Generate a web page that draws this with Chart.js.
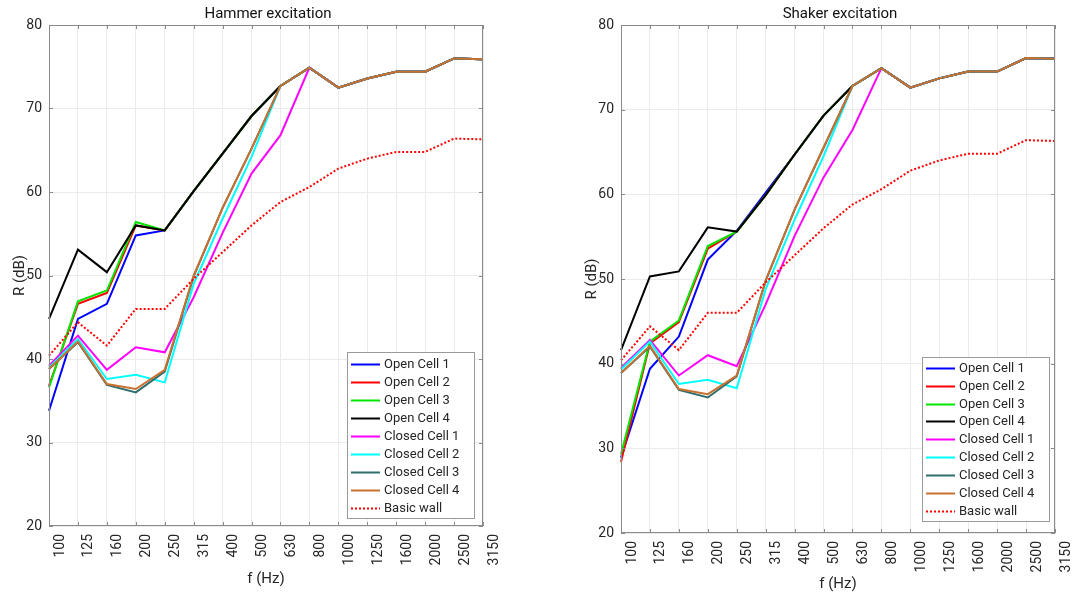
<!DOCTYPE html>
<html>
<head>
<meta charset="utf-8">
<title>Hammer / Shaker excitation</title>
<script src="https://cdn.jsdelivr.net/npm/chart.js@4.4.1/dist/chart.umd.min.js"></script>
<style>
  html, body { margin: 0; padding: 0; background: #fff; }
  #wrap { position: relative; width: 1072px; height: 595px; overflow: hidden; }
  .panel { position: absolute; top: 0; width: 536px; height: 595px; }
</style>
</head>
<body>
<div id="wrap">
  <div class="panel" style="left:0"><canvas id="hammer" width="536" height="595"></canvas></div>
  <div class="panel" style="left:536px"><canvas id="shaker" width="536" height="595"></canvas></div>
</div>
<script>
// 1/3 octave bands
const freqLabels = ['100', '125', '160', '200', '250', '315', '400', '500', '630', '800',
                    '1000', '1250', '1600', '2000', '2500', '3150'];
const yTicks = { min: 20, max: 80, step: 10 };

const seriesNames = ['Open Cell 1', 'Open Cell 2', 'Open Cell 3', 'Open Cell 4',
                     'Closed Cell 1', 'Closed Cell 2', 'Closed Cell 3', 'Closed Cell 4', 'Basic wall'];
const seriesColors = ['#0000ff', '#ff0000', '#00e600', '#000000',
                      '#ff00ff', '#00ffff', '#2f6e6e', '#c87131', '#ff0000'];

// Hammer excitation (dB)
const hammerOpen1   = [33.8, 44.8, 46.6, 54.8, 55.4, 60.1, 64.6, 69.1, 72.7, 74.9, 72.5, 73.6, 74.4, 74.4, 76.0, 75.9];
const hammerOpen2   = [36.8, 46.6, 47.9, 56.0, 55.4, 60.1, 64.6, 69.1, 72.7, 74.9, 72.5, 73.6, 74.4, 74.4, 76.0, 75.9];
const hammerOpen3   = [36.6, 46.9, 48.2, 56.4, 55.4, 60.1, 64.6, 69.1, 72.7, 74.9, 72.5, 73.6, 74.4, 74.4, 76.0, 75.9];
const hammerOpen4   = [44.8, 53.1, 50.4, 56.0, 55.4, 60.1, 64.6, 69.1, 72.7, 74.9, 72.5, 73.6, 74.4, 74.4, 76.0, 75.9];
const hammerClosed1 = [39.2, 42.8, 38.7, 41.4, 40.8, 47.4, 55.1, 62.2, 66.8, 74.9, 72.5, 73.6, 74.4, 74.4, 76.0, 75.9];
const hammerClosed2 = [39.0, 42.4, 37.6, 38.1, 37.2, 49.0, 56.8, 64.2, 72.7, 74.9, 72.5, 73.6, 74.4, 74.4, 76.0, 75.9];
const hammerClosed3 = [38.8, 42.0, 36.9, 36.0, 38.5, 49.9, 58.1, 65.2, 72.7, 74.9, 72.5, 73.6, 74.4, 74.4, 76.0, 75.9];
const hammerClosed4 = [38.8, 42.1, 37.0, 36.4, 38.7, 50.0, 58.1, 65.2, 72.7, 74.9, 72.5, 73.6, 74.4, 74.4, 76.0, 75.9];

// Shaker excitation (dB)
const shakerOpen1   = [28.9, 39.4, 43.2, 52.3, 55.7, 60.2, 64.7, 69.3, 72.8, 74.9, 72.6, 73.7, 74.5, 74.5, 76.1, 76.0];
const shakerOpen2   = [28.4, 42.4, 44.9, 53.6, 55.6, 59.9, 64.7, 69.3, 72.8, 74.9, 72.6, 73.7, 74.5, 74.5, 76.1, 76.0];
const shakerOpen3   = [29.3, 42.6, 45.1, 53.9, 55.6, 59.9, 64.7, 69.3, 72.8, 74.9, 72.6, 73.7, 74.5, 74.5, 76.1, 76.0];
const shakerOpen4   = [41.6, 50.3, 50.9, 56.1, 55.6, 59.9, 64.7, 69.3, 72.8, 74.9, 72.6, 73.7, 74.5, 74.5, 76.1, 76.0];
const shakerClosed1 = [39.5, 42.8, 38.6, 41.0, 39.7, 47.0, 55.1, 62.0, 67.6, 74.9, 72.6, 73.7, 74.5, 74.5, 76.1, 76.0];
const shakerClosed2 = [39.3, 42.6, 37.6, 38.1, 37.1, 48.8, 57.0, 64.5, 72.8, 74.9, 72.6, 73.7, 74.5, 74.5, 76.1, 76.0];
const shakerClosed3 = [38.9, 42.0, 36.9, 36.0, 38.5, 49.8, 58.2, 65.5, 72.8, 74.9, 72.6, 73.7, 74.5, 74.5, 76.1, 76.0];
const shakerClosed4 = [38.9, 42.1, 37.0, 36.4, 38.6, 49.8, 58.2, 65.5, 72.8, 74.9, 72.6, 73.7, 74.5, 74.5, 76.1, 76.0];

// reference wall, same in both plots
const basicWall = [40.4, 44.4, 41.6, 46.0, 46.0, 49.6, 52.8, 56.0, 58.8, 60.6, 62.8, 64.0, 64.8, 64.8, 66.4, 66.3];

const FONT = 'Roboto';
const textColor = '#262626';
const axisColor = '#8a8a8a';
const gridColor = '#ebebeb';

// box around the axes + small inner ticks + title, like matlab
const framePlugin = {
    id: 'frame',
    afterDraw(chart, args, opts) {
        const { ctx, chartArea: a, scales } = chart;
        ctx.save();
        ctx.strokeStyle = axisColor;
        ctx.lineWidth = 1;
        ctx.strokeRect(a.left + 0.5, a.top + 0.5, a.right - a.left - 1, a.bottom - a.top - 1);

        ctx.beginPath();
        scales.y.ticks.forEach(t => {
            const y = Math.round(scales.y.getPixelForValue(t.value)) + 0.5;
            ctx.moveTo(a.left, y); ctx.lineTo(a.left + 4, y);
            ctx.moveTo(a.right - 4, y); ctx.lineTo(a.right, y);
        });
        scales.x.ticks.forEach((t, i) => {
            const x = Math.round(scales.x.getPixelForTick(i)) + 0.5;
            ctx.moveTo(x, a.bottom); ctx.lineTo(x, a.bottom - 4);
            ctx.moveTo(x, a.top); ctx.lineTo(x, a.top + 4);
        });
        ctx.stroke();

        ctx.fillStyle = '#111';
        ctx.font = '15px ' + FONT;
        ctx.textAlign = 'center';
        ctx.textBaseline = 'middle';
        ctx.fillText(opts.text, (a.left + a.right) / 2 + 2, 14);
        ctx.restore();
    }
};

// legend box in the lower right corner of the axes
const boxLegendPlugin = {
    id: 'boxLegend',
    afterDraw(chart, args, opts) {
        const { ctx, chartArea: a } = chart;
        const w = 127, h = opts.height;
        const x0 = Math.round(a.right - opts.right - w);
        const y0 = Math.round(a.bottom - opts.bottom - h);
        ctx.save();
        ctx.fillStyle = '#fff';
        ctx.fillRect(x0, y0, w, h);
        ctx.strokeStyle = '#9a9a9a';
        ctx.lineWidth = 1;
        ctx.strokeRect(x0 + 0.5, y0 + 0.5, w, h);

        ctx.font = '13px ' + FONT;
        ctx.textBaseline = 'middle';
        ctx.textAlign = 'left';
        chart.data.datasets.forEach((ds, i) => {
            const y = Math.round(y0 + opts.firstRow + i * opts.rowGap) + 0.5;
            ctx.strokeStyle = ds.borderColor;
            ctx.lineWidth = 2;
            ctx.setLineDash(ds.borderDash || []);
            ctx.beginPath();
            ctx.moveTo(x0 + 4, y);
            ctx.lineTo(x0 + 33, y);
            ctx.stroke();
            ctx.setLineDash([]);
            ctx.fillStyle = textColor;
            ctx.fillText(ds.label, x0 + 37, y);
        });
        ctx.restore();
    }
};

function makeDatasets(arrays) {
    return arrays.map((values, i) => ({
        label: seriesNames[i],
        data: values,
        borderColor: seriesColors[i],
        backgroundColor: seriesColors[i],
        borderWidth: 2,
        borderDash: i === 8 ? [2, 2] : [],
        pointRadius: 0,
        tension: 0,
        fill: false,
        order: 8 - i   // last series on top, as in matlab
    }));
}

function buildChart(id, arrays, p) {
    const ctx = document.getElementById(id).getContext('2d');
    return new Chart(ctx, {
        type: 'line',
        data: { labels: freqLabels, datasets: makeDatasets(arrays) },
        plugins: [framePlugin, boxLegendPlugin],
        options: {
            responsive: false,
            animation: false,
            layout: { padding: { left: p.padLeft, right: p.padRight, top: 25, bottom: 0 } },
            scales: {
                x: {
                    type: 'category',
                    offset: false,
                    grid: { color: gridColor, drawTicks: false },
                    border: { display: false },
                    ticks: {
                        autoSkip: false, minRotation: 90, maxRotation: 90,
                        padding: 8, labelOffset: 11,
                        color: textColor, font: { family: FONT, size: 14 }
                    },
                    title: {
                        display: true, text: 'f (Hz)', color: textColor,
                        font: { family: FONT, size: 15 },
                        padding: { top: 0, bottom: p.xTitlePad }
                    },
                    afterFit: s => { s.height = p.xHeight; s.paddingLeft = 0; s.paddingRight = 0; }
                },
                y: {
                    min: yTicks.min, max: yTicks.max,
                    grid: { color: gridColor, drawTicks: false },
                    border: { display: false },
                    ticks: {
                        stepSize: yTicks.step, padding: 7,
                        color: textColor, font: { family: FONT, size: 14 }
                    },
                    title: {
                        display: true, text: 'R (dB)', color: textColor,
                        font: { family: FONT, size: 15 },
                        padding: { top: 11, bottom: 0 }
                    },
                    afterFit: s => { s.width = 49; }
                }
            },
            plugins: {
                legend: { display: false },
                tooltip: { enabled: false },
                frame: { text: p.title },
                boxLegend: p.legend
            }
        }
    });
}

buildChart('hammer',
    [hammerOpen1, hammerOpen2, hammerOpen3, hammerOpen4,
     hammerClosed1, hammerClosed2, hammerClosed3, hammerClosed4, basicWall],
    {
        title: 'Hammer excitation',
        padLeft: 0, padRight: 53, xHeight: 69, xTitlePad: 7,
        legend: { right: 9, bottom: 8, height: 166, firstRow: 12.3, rowGap: 18 }
    });

buildChart('shaker',
    [shakerOpen1, shakerOpen2, shakerOpen3, shakerOpen4,
     shakerClosed1, shakerClosed2, shakerClosed3, shakerClosed4, basicWall],
    {
        title: 'Shaker excitation',
        padLeft: 36, padRight: 17, xHeight: 62, xTitlePad: 2,
        legend: { right: 6, bottom: 12, height: 164, firstRow: 10.7, rowGap: 17.9 }
    });
</script>
</body>
</html>
